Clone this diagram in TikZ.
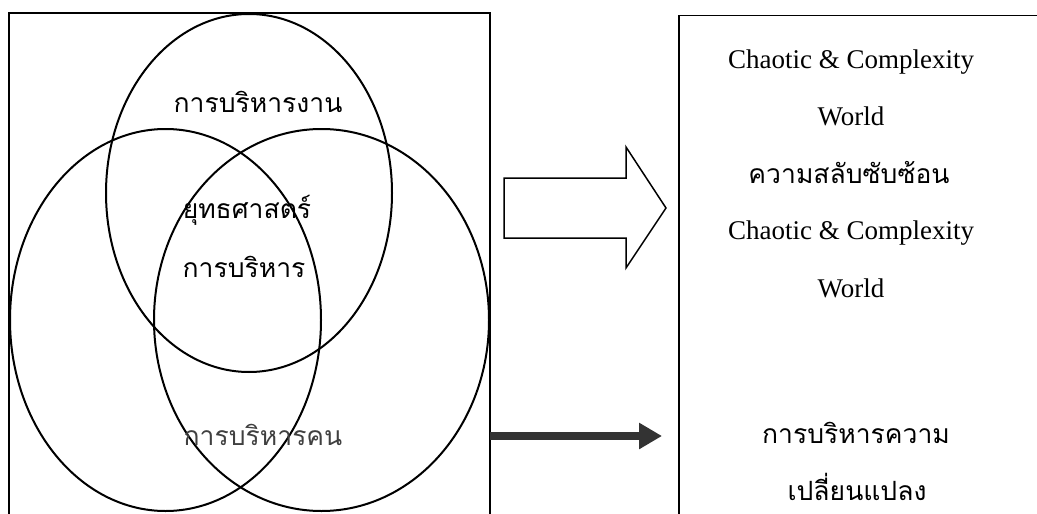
\documentclass[tikz,border=0pt]{standalone}
\usepackage{fontspec}
\setmainfont{Liberation Serif}
\newfontfamily\thaifont[Script=Thai]{Loma}
\usetikzlibrary{arrows.meta, positioning, shapes.geometric}

\begin{document}
\begin{tikzpicture}[
        x=1pt, y=-1pt,
        every node/.style={inner sep=0pt, outer sep=0pt},
        frame/.style={draw, line width=1.5pt, anchor=north west, minimum height=540pt},
        venn/.style={ellipse, draw, line width=2pt},
        thtext/.style={anchor=base, font=\thaifont\fontsize{26.5}{30}\selectfont},
        entext/.style={anchor=base, font=\fontsize{27}{31}\selectfont},
        >=Triangle
      ]
      \useasboundingbox (0,0) rectangle (1037,514);
      \clip (0,0) rectangle (1037,514);

      % Frames
      \node (frameL) [frame, minimum width=481pt] at (9,13) {};
      \node (frameR) [frame, minimum width=420pt] at (679,15.5) {};

      % Venn circles
      \node (ovWork) [venn, minimum width=286pt, minimum height=358pt] at (249,193) {};
      \node (ovLeft) [venn, minimum width=311pt, minimum height=382pt] at (165.5,320) {};
      \node (ovRight) [venn, minimum width=335pt, minimum height=382pt] at (321.5,320) {};

      % Labels in the circles
      \node (work) [thtext] at (258,112) {การบริหารงาน};
      \node (strat) [thtext] at (247,218) {ยุทธศาสตร์};
      \node (mgmt) [thtext] at (244,277) {การบริหาร};
      \node (people) [thtext, text=black!75] at (263,445) {การบริหารคน};

      % Texts on the right
      \node (chaosA) [entext] at (851,68) {Chaotic \& Complexity};
      \node (worldA) [entext] at (851,125) {World};
      \node (cmplx) [thtext] at (849,183) {ความสลับซับซ้อน};
      \node (chaosB) [entext] at (851,239) {Chaotic \& Complexity};
      \node (worldB) [entext] at (851,297) {World};
      \node (chgA) [thtext] at (856,443) {การบริหารความ};
      \node (chgB) [thtext] at (857,500) {เปลี่ยนแปลง};

      % Arrows
      \draw[line width=1.5pt, line join=miter] (504,178) -- (626,178) -- (626,147)
        -- (666,208) -- (626,268) -- (626,238) -- (504,238) -- cycle;
      \draw[line width=8pt, black!80, -{Triangle[length=23pt, width=25pt]}, shorten >=17pt]
        (frameL.east |- people.base) ++(0,-9) coordinate (thickS)
        (thickS) -- (frameR.west |- thickS);

\end{tikzpicture}
\end{document}
